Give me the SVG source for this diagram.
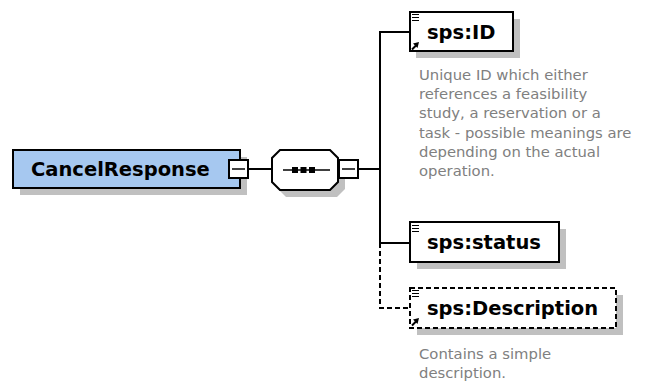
<svg xmlns="http://www.w3.org/2000/svg" width="651" height="385" viewBox="0 0 651 385">
<style>
.shadow{fill:#c0c0c0;stroke:none}
.box{fill:#fff;stroke:#000;stroke-width:2}
.dbox{fill:#fff;stroke:#000;stroke-width:2;stroke-dasharray:5 3}
.lbl{font-family:"DejaVu Sans",sans-serif;font-weight:bold;font-size:19.5px;fill:#000}
.doc{font-family:"DejaVu Sans",sans-serif;font-size:14.8px;fill:#808080}
.conn{stroke:#000;stroke-width:2;fill:none}
.dash{stroke-dasharray:5 3}
.icon{stroke:#000;stroke-width:1.2;fill:none}
.arr{stroke:#000;stroke-width:2;fill:none}
</style>
<rect width="651" height="385" fill="#fff"/>
<g id="connectors">
<line class="conn" x1="248" y1="169" x2="272" y2="169"/>
<line class="conn" x1="358" y1="169" x2="380" y2="169"/>
<polyline class="conn" points="410,32 380,32 380,243 410,243"/>
<polyline class="conn dash" points="380,243 380,308 410,308"/>
</g>
<g id="CancelResponse">
<rect class="shadow" x="20" y="157" width="227" height="38"/>
<rect x="13" y="150" width="227" height="38" fill="#a6c8f0" stroke="#000" stroke-width="2"/>
<text class="lbl" x="31" y="176">CancelResponse</text>
<rect class="box" x="229" y="160" width="19" height="18"/>
<line x1="232" y1="169" x2="245" y2="169" stroke="#000" stroke-width="1.5"/>
</g>
<g id="sequence">
<polygon class="shadow" points="286,157 337,157 345,165 345,189 337,197 286,197 278,189 278,165"/>
<polygon class="box" points="280,150 330,150 338,158 338,182 330,190 280,190 272,182 272,158"/>
<line x1="283" y1="170" x2="330" y2="170" stroke="#000" stroke-width="1.5"/>
<rect x="292" y="167" width="6" height="6" fill="#000"/>
<rect x="300.5" y="167" width="6" height="6" fill="#000"/>
<rect x="309" y="167" width="6" height="6" fill="#000"/>
<rect class="box" x="339" y="160" width="19" height="18"/>
<line x1="342" y1="169" x2="355" y2="169" stroke="#000" stroke-width="1.5"/>
</g>
<g id="sps-ID">
<rect class="shadow" x="416" y="19" width="104" height="39"/>
<rect class="box" x="410" y="12" width="103" height="39"/>
<path class="icon" d="M412,14.5 h7 M412,17.5 h7 M412,20.5 h7"/>
<line class="arr" x1="412" y1="49.5" x2="416" y2="45.5"/>
<polygon points="419,42 413,43.5 417.5,48" fill="#000"/>
<text class="lbl" x="427" y="39">sps:ID</text>
<text class="doc" x="419" y="80">Unique ID which either</text>
<text class="doc" x="419" y="99">references a feasibility</text>
<text class="doc" x="419" y="118">study, a reservation or a</text>
<text class="doc" x="419" y="138">task - possible meanings are</text>
<text class="doc" x="419" y="157">depending on the actual</text>
<text class="doc" x="419" y="176">operation.</text>
</g>
<g id="sps-status">
<rect class="shadow" x="417" y="229" width="149" height="40"/>
<rect class="box" x="410" y="222" width="149" height="40"/>
<path class="icon" d="M412,225.5 h7 M412,228.5 h7 M412,231.5 h7"/>
<text class="lbl" x="427" y="249">sps:status</text>
</g>
<g id="sps-Description">
<rect class="shadow" x="417" y="295" width="206" height="40"/>
<rect class="dbox" x="410" y="288" width="206" height="40"/>
<path class="icon" d="M412,290.5 h7 M412,293.5 h7 M412,296.5 h7"/>
<line class="arr" x1="412" y1="325.5" x2="416" y2="321.5"/>
<polygon points="419,318 413,319.5 417.5,324" fill="#000"/>
<text class="lbl" x="427" y="315">sps:Description</text>
<text class="doc" x="419" y="359">Contains a simple</text>
<text class="doc" x="419" y="378">description.</text>
</g>
</svg>
